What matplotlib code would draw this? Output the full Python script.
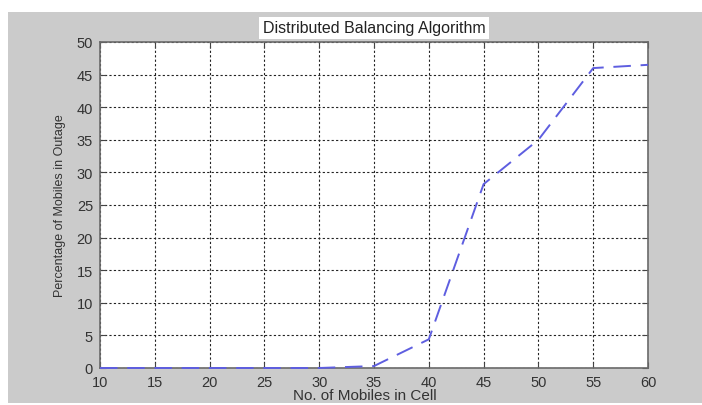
import matplotlib.pyplot as plt
from matplotlib.patches import Rectangle

# data
mobiles = [10, 15, 20, 25, 30, 35, 40, 45, 50, 55, 60]
outage_pct = [0.0, 0.0, 0.0, 0.0, 0.0, 0.3, 4.4, 28.2, 35.0, 46.0, 46.5]
x_ticks = [10, 15, 20, 25, 30, 35, 40, 45, 50, 55, 60]
y_ticks = [0, 5, 10, 15, 20, 25, 30, 35, 40, 45, 50]

plt.rcParams['font.family'] = ['Liberation Sans', 'DejaVu Sans']

W, H = 702, 406
fig = plt.figure(figsize=(W / 100, H / 100), dpi=100, facecolor='white')
# gray panel behind the plot (white strip on top and left edge)
fig.patches.append(Rectangle((8 / W, 2 / H), 1 - 8 / W, (404 - 13) / H,
                             transform=fig.transFigure, facecolor='#cbcbcb',
                             edgecolor='none', zorder=-10))

ax = fig.add_axes([100 / W, 1 - 369 / H, (648 - 100) / W, (369 - 43) / H])
ax.set_facecolor('white')

ax.plot(mobiles, outage_pct, color='#5e5ee0', lw=1.4, dashes=(9, 5),
        zorder=5, clip_on=False)

ax.set_xlim(10, 60)
ax.set_ylim(0, 50)
ax.set_xticks(x_ticks)
ax.set_yticks(y_ticks)
ax.tick_params(direction='in', length=4, top=True, right=True,
               labelsize=10.5, labelcolor='#333333', color='#444444')
ax.tick_params(axis='x', pad=5)
ax.tick_params(axis='y', pad=5)
ax.grid(True, color='#222222', linestyle=(0, (2, 2)), lw=0.8)
for s in ax.spines.values():
    s.set_color('#6a6a6a')
    s.set_linewidth(1.2)

ax.set_xlabel('No. of Mobiles in Cell', fontsize=11, color='#333333', labelpad=0)
ax.xaxis.set_label_coords(0.483, -0.062)
ax.set_ylabel('Percentage of Mobiles in Outage', fontsize=9, color='#333333',
              labelpad=8)
ax.set_title('Distributed Balancing Algorithm', fontsize=11.5, color='#222222',
             pad=7, bbox=dict(facecolor='white', edgecolor='none', pad=2.5))

fig.savefig('out.png', dpi=100, facecolor=fig.get_facecolor())
